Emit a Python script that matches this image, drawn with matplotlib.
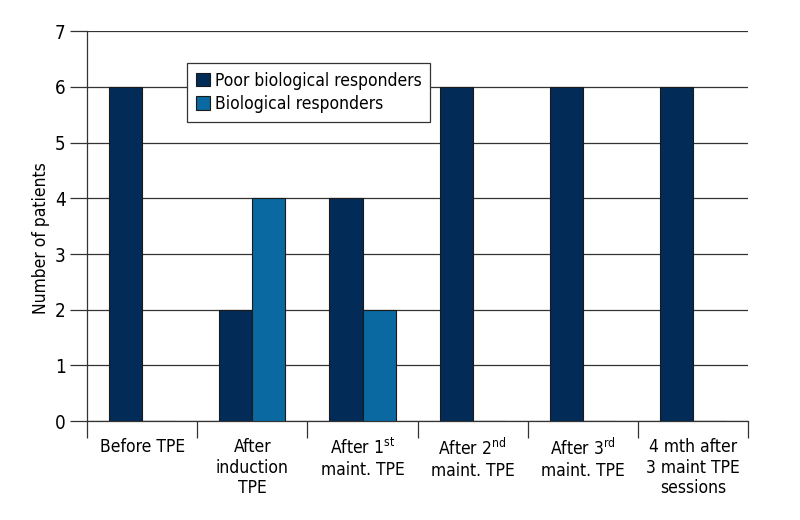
import matplotlib
matplotlib.use('Agg')
import matplotlib.pyplot as plt
import numpy as np

plt.rcParams['font.family'] = ['DejaVu Sans']
plt.rcParams['font.stretch'] = 'condensed'
plt.rcParams['mathtext.fontset'] = 'custom'
plt.rcParams['mathtext.rm'] = 'DejaVu Sans:stretch=condensed'
plt.rcParams['mathtext.default'] = 'rm'

categories = ['Before TPE', 'After\ninduction\nTPE', 'After 1$^{st}$\nmaint. TPE',
              'After 2$^{nd}$\nmaint. TPE', 'After 3$^{rd}$\nmaint. TPE',
              '4 mth after\n3 maint TPE\nsessions']
poor = [6, 2, 4, 6, 6, 6]
responders = [0, 4, 2, 0, 0, 0]

dark = '#022b57'
light = '#0a69a0'

fig = plt.figure(figsize=(8, 5.2), dpi=100)
ax = fig.add_axes([0.109, 0.19, 0.826, 0.75])

x = np.arange(len(categories))
w = 0.3
ax.bar(x - w / 2, poor, w, color=dark, edgecolor='#1a1a1a', linewidth=0.8,
       label='Poor biological responders', zorder=3)
ax.bar(x + w / 2, responders, w, color=light, edgecolor='#1a1a1a', linewidth=0.8,
       label='Biological responders', zorder=3)

ax.set_xlim(-0.5, len(categories) - 0.5)
ax.set_ylim(0, 7)
ax.set_yticks(range(0, 8))
ax.yaxis.grid(True, color='#333333', linewidth=0.9)
ax.set_axisbelow(True)
ax.tick_params(axis='y', length=12, width=0.9, color='#333333', labelsize=13.5)

ax.set_xticks(x)
ax.set_xticklabels(categories, fontsize=12.5, linespacing=1.2)
ax.set_xticks(np.arange(-0.5, len(categories)), minor=True)
ax.tick_params(axis='x', which='major', length=0, pad=12)
ax.tick_params(axis='x', which='minor', length=12, width=0.9, color='#333333')

for s in ['top', 'right']:
    ax.spines[s].set_visible(False)
for s in ['left', 'bottom']:
    ax.spines[s].set_color('#333333')
    ax.spines[s].set_linewidth(0.9)

ax.set_ylabel('Number of patients', fontsize=12.5)
ax.yaxis.set_label_coords(-0.056, 0.47)

leg = ax.legend(loc='upper left', bbox_to_anchor=(0.151, 0.918), borderaxespad=0,
                fontsize=12.5, frameon=True, fancybox=False, framealpha=1,
                edgecolor='#333333', handlelength=0.8, handleheight=0.8,
                handletextpad=0.3, borderpad=0.5, labelspacing=0.3)
leg.get_frame().set_linewidth(0.9)

fig.savefig('out.png', dpi=100)
